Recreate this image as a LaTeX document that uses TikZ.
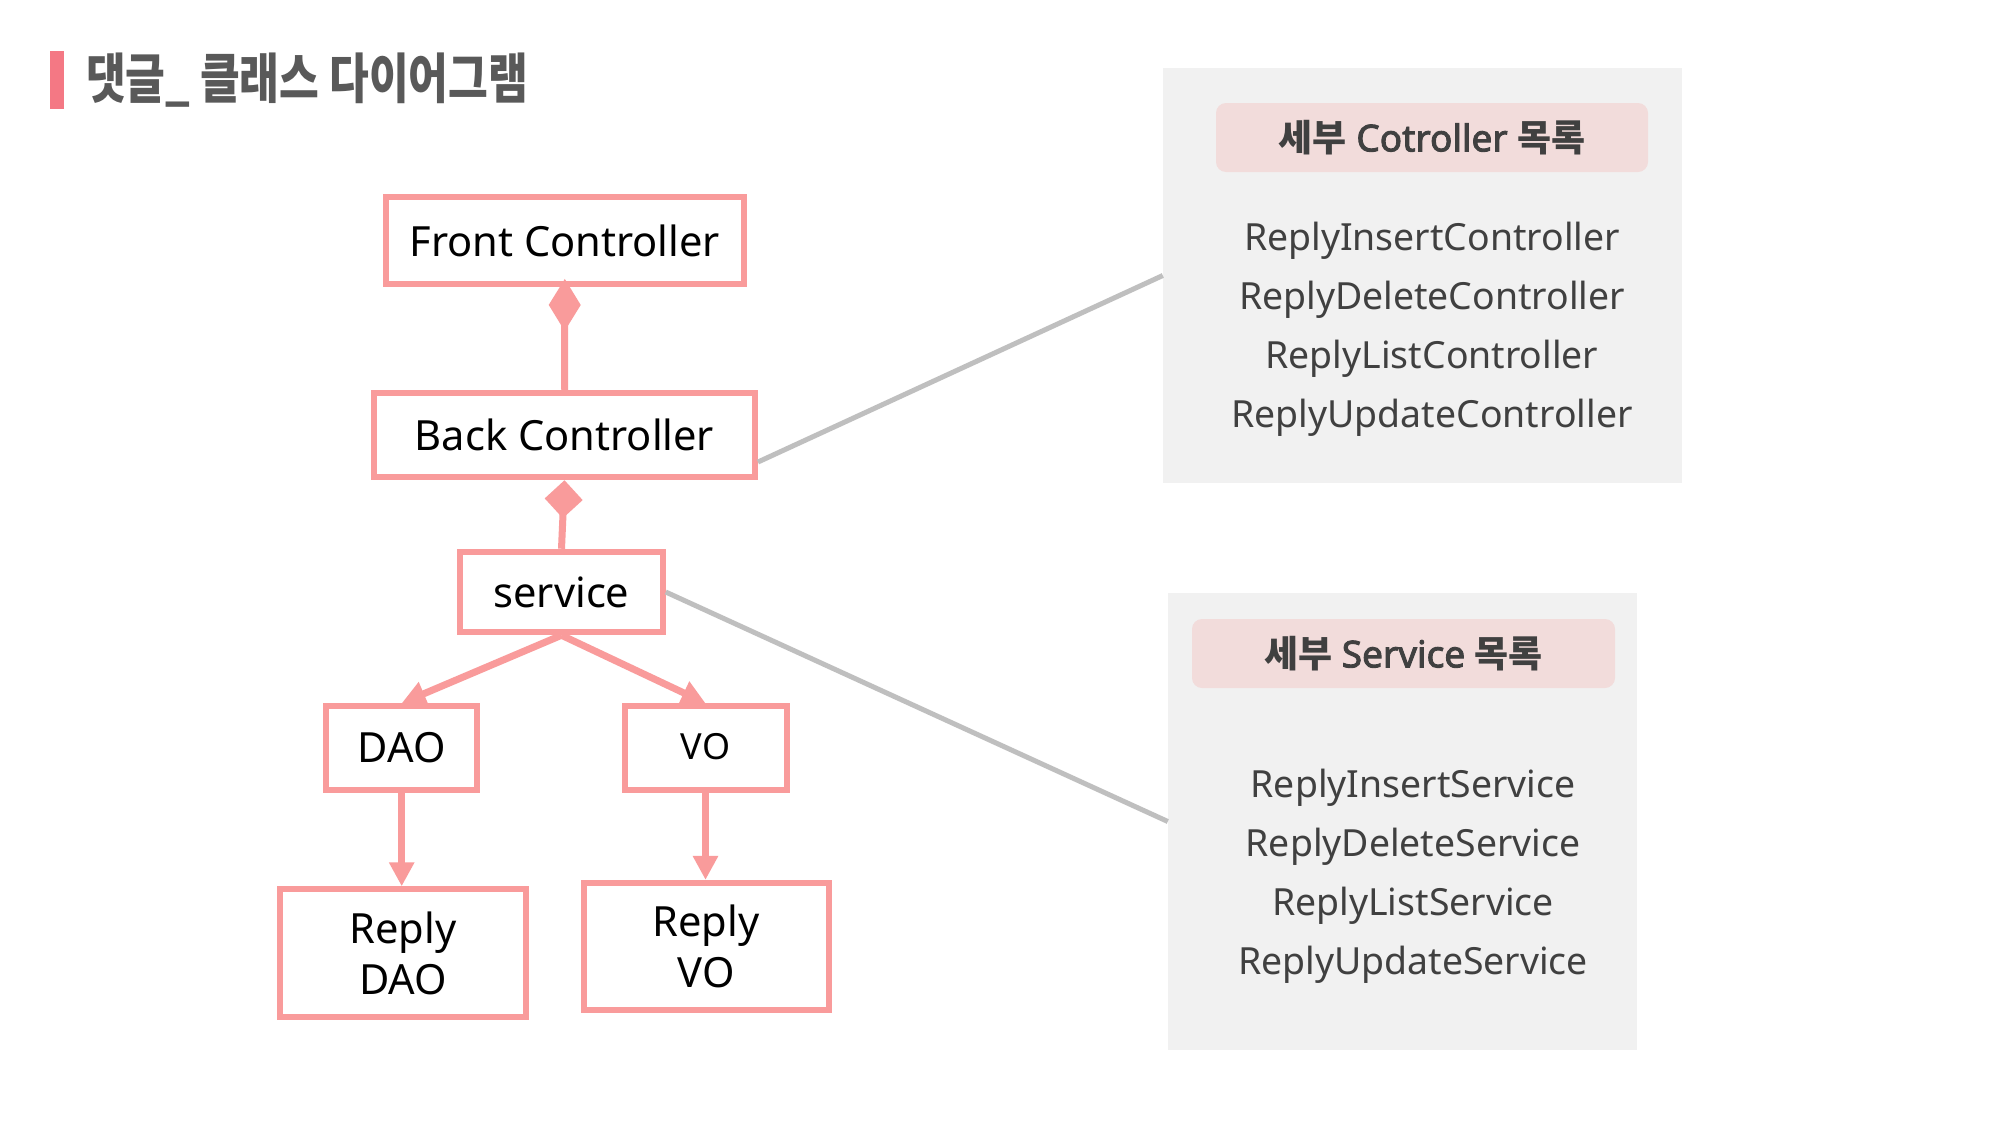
\documentclass[tikz,border=0pt]{standalone}
\usepackage{fontspec}
\setmainfont{Noto Sans}[AutoFakeBold=2.5]
\newfontfamily\krfont{Noto Sans CJK KR}
\newfontfamily\krtitle{Noto Sans CJK KR}[FakeStretch=0.80]
\usetikzlibrary{arrows.meta}

\definecolor{boxpink}{HTML}{F99B9B}
\definecolor{barpink}{HTML}{F47884}
\definecolor{panelgrey}{HTML}{F1F1F1}
\definecolor{pillpink}{HTML}{F2DCDB}
\definecolor{textgrey}{HTML}{404040}
\definecolor{titlegrey}{HTML}{595959}
\definecolor{linkgrey}{HTML}{BFBFBF}

\tikzset{
    classbox/.style={draw=boxpink, line width=6pt, fill=white, inner sep=0pt,
        align=center, font=\fontsize{41.6}{51}\selectfont},
    pinkline/.style={draw=boxpink, fill=boxpink, line width=7pt},
    greyline/.style={draw=linkgrey, line width=5pt},
    panel/.style={fill=panelgrey, inner sep=0pt},
    headpill/.style={fill=pillpink, rounded corners=10pt, inner sep=0pt, text=textgrey,
        font=\fontsize{37}{44}\selectfont\bfseries},
    listtext/.style={inner sep=0pt, align=center, text=textgrey,
        font=\fontsize{37.4}{59}\selectfont}
}

\begin{document}
\begin{tikzpicture}[x=1pt, y=-1pt]

        \useasboundingbox (0,0) rectangle (2000,1125);
        \fill[white] (0,0) rectangle (2000,1125);

        % title
        \fill[barpink] (50,51) rectangle (64,109);
        \node[anchor=west, inner sep=0pt, text=titlegrey,
            font=\krtitle\bfseries\fontsize{54}{60}\selectfont] (title) at (86,80)
            {댓글\_ 클래스 다이어그램};

        % detail panels
        \node[panel, minimum width=519pt, minimum height=415pt] (ctrlpanel) at (1422.5,275.5) {};
        \node[panel, minimum width=469pt, minimum height=457pt] (svcpanel) at (1402.5,821.5) {};

        \node[headpill, minimum width=432pt, minimum height=69pt] (ctrlhead) at (1432,137.5)
            {{\krfont 세부} Cotroller {\krfont 목록}};
        \node[headpill, minimum width=423pt, minimum height=69pt] (svchead) at (1403.5,653.5)
            {{\krfont 세부} Service {\krfont 목록}};

        \node[listtext] (ctrllist) at (1432,329)
            {ReplyInsertController\\ReplyDeleteController\\ReplyListController\\ReplyUpdateController};
        \node[listtext] (svclist) at (1413,876)
            {ReplyInsertService\\ReplyDeleteService\\ReplyListService\\ReplyUpdateService};

        % classes
        \node[classbox, minimum width=358pt, minimum height=86.5pt] (front) at (564.8,240.7) {Front Controller};
        \node[classbox, minimum width=381pt, minimum height=84.5pt] (back) at (564.5,435) {Back Controller};
        \node[classbox, minimum width=202.5pt, minimum height=80.5pt] (service) at (561.5,592) {service};
        \node[classbox, minimum width=150.5pt, minimum height=83.5pt] (dao) at (401.7,747.9) {DAO};
        \node[classbox, minimum width=162pt, minimum height=83.5pt] (vo) at (705.5,747.9)
            {\fontsize{36}{44}\selectfont\raisebox{3pt}{VO}};
        \node[classbox, minimum width=245.5pt, minimum height=127.5pt] (replydao) at (403,953) {Reply\\DAO};
        \node[classbox, minimum width=245pt, minimum height=127.5pt] (replyvo) at (706,946.6) {Reply\\VO};

        % #######################################

        \draw[greyline] ([yshift=-27pt]back.east) -- (ctrlpanel.west);
        \draw[greyline] (service.east) -- (svcpanel.west);

        \draw[pinkline, -{Diamond[width=32pt,length=52pt]}] (back.north) -- ([yshift=8pt]front.south);
        \draw[pinkline, -{Diamond[width=38pt,length=38pt]}] (service.north) -- (back.south);

        \draw[pinkline, -{Triangle[width=24pt,length=24pt]}] (service.south) -- (dao.north);
        \draw[pinkline, -{Triangle[width=24pt,length=24pt]}] (service.south) -- (vo.north);

        \draw[pinkline, -{Triangle[width=24pt,length=24pt]}] (dao.south) -- (dao.south |- replydao.north);
        \draw[pinkline, -{Triangle[width=24pt,length=24pt]}] (vo.south) -- (vo.south |- replyvo.north);

\end{tikzpicture}
\end{document}
